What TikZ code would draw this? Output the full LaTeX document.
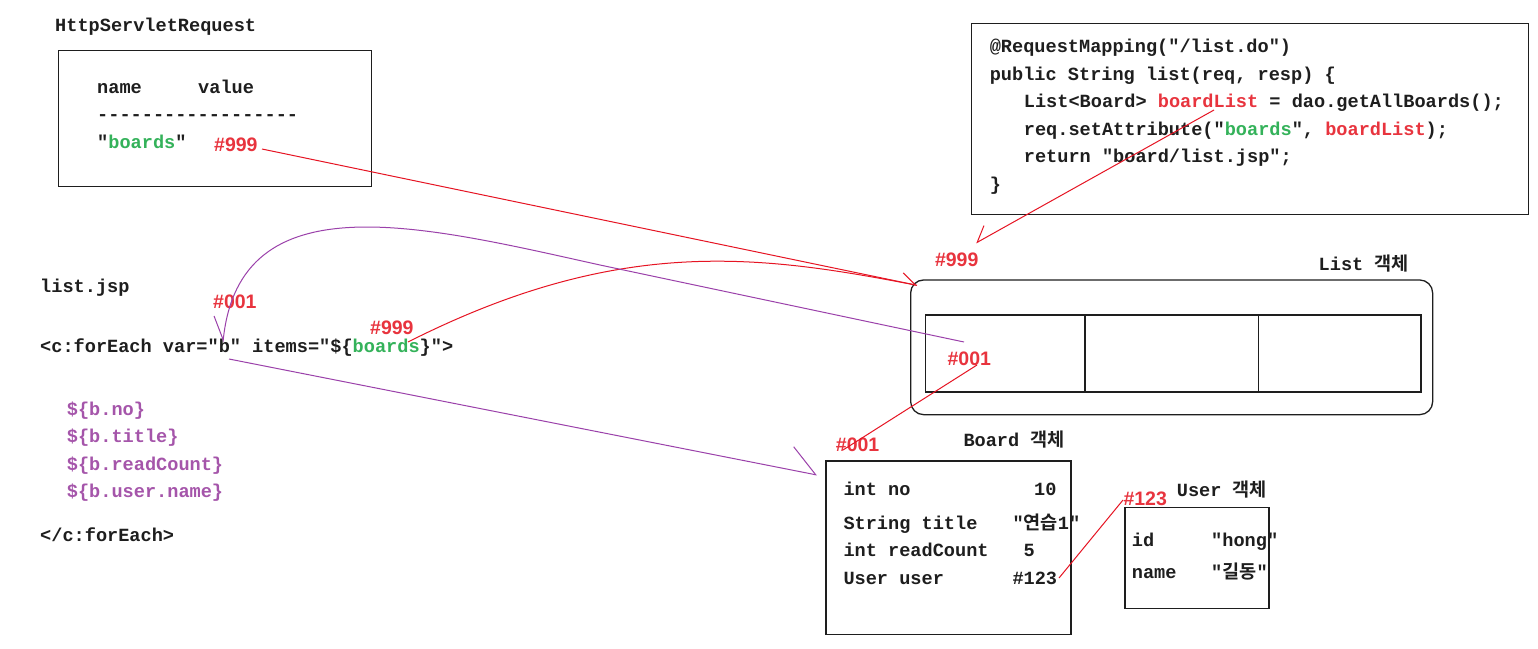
\documentclass[tikz,border=0pt]{standalone}
\usepackage{fontspec}
\setmonofont{Liberation Mono}
\newfontfamily\lblfont{Liberation Sans}
\newfontfamily\krfont{Noto Sans CJK KR}[UprightFont={* Bold},BoldFont={* Bold}]
\usetikzlibrary{arrows.meta}
\definecolor{redtxt}{RGB}{232,52,62}
\definecolor{redln}{RGB}{230,20,35}
\definecolor{greentxt}{RGB}{52,178,90}
\definecolor{purpletxt}{RGB}{165,85,170}
\definecolor{purpleln}{RGB}{155,65,170}
\definecolor{inkc}{RGB}{30,30,30}
\begin{document}
\begin{tikzpicture}[x=1pt,y=-1pt,
  txt/.style={inner sep=0pt, anchor=base west, text=inkc,
    font=\ttfamily\bfseries\fontsize{18.6}{22}\selectfont},
  eltxt/.style={txt, text=purpletxt},
  lbl/.style={inner sep=0pt, anchor=base west, text=redtxt,
    font=\lblfont\bfseries\fontsize{19.5}{22}\selectfont},
  boxn/.style={draw=inkc, line width=1.3pt, anchor=north west, inner sep=0pt},
  redwire/.style={draw=redln, line width=1pt},
  purplewire/.style={draw=purpleln, line width=1pt}]
\useasboundingbox (0,0) rectangle (1538,648);
\fill[white] (0,0) rectangle (1538,648);

% HttpServletRequest
\node[txt] (reqtitle) at (55,31.7) {HttpServletRequest};
\node[boxn, minimum width=313pt, minimum height=136pt] (reqbox) at (58,50) {};
\node[txt] (reqname) at (97,93) {name};
\node[txt] (reqvalue) at (198,93) {value};
\node[txt] (reqdash) at (97,120.5) {------------------};
\node[txt] (reqkey) at (97,148) {"\textcolor{greentxt}{boards}"};
\node[lbl] (req999) at (214,151.7) {\#999};

% controller code
\node[boxn, minimum width=557pt, minimum height=191pt] (codebox) at (971,23) {};
\node[txt] (code1) at (989.6,52.5) {@RequestMapping("/list.do")};
\node[txt] (code2) at (989.6,80) {public String list(req, resp) \{};
\node[txt] (code3) at (1023.7,107.5) {List<Board> \textcolor{redtxt}{boardList} = dao.getAllBoards();};
\node[txt] (code4) at (1023.7,135) {req.setAttribute("\textcolor{greentxt}{boards}", \textcolor{redtxt}{boardList});};
\node[txt] (code5) at (1023.7,162.5) {return "board/list.jsp";};
\node[txt] (code6) at (989.6,190) {\}};

% list.jsp
\node[txt] (jsptitle) at (40,292.7) {list.jsp};
\node[lbl] (jsp001) at (213,308.3) {\#001};
\node[lbl] (jsp999) at (370,334.3) {\#999};
\node[txt] (foreach) at (40,352.7) {<c:forEach var="b" items="\$\{\textcolor{greentxt}{boards}\}">};
\node[eltxt] (el1) at (66.7,415) {\$\{b.no\}};
\node[eltxt] (el2) at (66.7,442.7) {\$\{b.title\}};
\node[eltxt] (el3) at (66.7,470) {\$\{b.readCount\}};
\node[eltxt] (el4) at (66.7,497.7) {\$\{b.user.name\}};
\node[txt] (endforeach) at (40,541) {</c:forEach>};

% List object
\node[txt] (listlbl) at (1318.5,270.7) {List {\krfont 객체}};
\node[lbl] (list999) at (934.8,266) {\#999};
\node[boxn, rounded corners=13pt, minimum width=522pt, minimum height=134.7pt] (listbox) at (910,279.3) {};
\node[boxn, line width=1.2pt, minimum width=495.3pt, minimum height=77pt] (listarr) at (925,314.3) {};
\draw[inkc, line width=1.2pt] (1085,316) -- (1085,393.3);
\draw[inkc, line width=1.2pt] (1258.8,316) -- (1258.8,393.3);
\node[lbl] (list001) at (947.4,365) {\#001};

% Board object
\node[lbl] (board001) at (835.7,451) {\#001};
\node[txt] (boardlbl) at (963.3,446.7) {Board {\krfont 객체}};
\node[boxn, minimum width=245pt, minimum height=173.7pt] (boardbox) at (825.3,460.3) {};
\node[txt] (bno) at (843.3,495.7) {int no};
\node[txt] (bnov) at (1034,495.7) {10};
\node[txt] (btitle) at (843.3,529) {String title};
\node[txt] (btitlev) at (1012.3,529) {"{\krfont 연습}1"};
\node[txt] (brc) at (843.3,556.7) {int readCount};
\node[txt] (brcv) at (1023.3,556.7) {5};
\node[txt] (buser) at (843.3,584) {User user};
\node[txt] (buserv) at (1012.3,584) {\#123};

% User object
\node[txt] (userlbl) at (1176.7,496.7) {User {\krfont 객체}};
\node[lbl] (user123) at (1123.3,505) {\#123};
\node[boxn, minimum width=144pt, minimum height=101.3pt] (userbox) at (1124.3,506.7) {};
\node[txt] (uid) at (1131.7,546) {id};
\node[txt] (uidv) at (1211,546) {"hong"};
\node[txt] (uname) at (1131.7,578.3) {name};
\node[txt] (unamev) at (1211,578.3) {"{\krfont 길동}"};

% connector end points
\coordinate (reqOut) at (262,149);
\coordinate (listTip) at (917,285.3);
\coordinate (jspBoardsOut) at (408,342);
\coordinate (boardListOut) at (1214,110);
\coordinate (codeTip) at (976,243);
\coordinate (listCellOut) at (977,365);
\coordinate (boardIn) at (843,450);
\coordinate (bTip) at (223,342);
\coordinate (bOut) at (229,359);
\coordinate (boardTip) at (817,475);
\coordinate (userRefOut) at (1059,578);
\coordinate (userIn) at (1123,500);
\coordinate (listElemOut) at (964,342);
\coordinate (bendA) at (600,265);

% connectors
\draw[redwire, -{Straight Barb[left, length=14.3pt, width=18.6pt]}] (reqOut) -- (listTip);
\draw[redwire] (jspBoardsOut) .. controls (620,235) and (760,255) .. (listTip);
\draw[redwire, -{Straight Barb[right, length=14pt, width=22.6pt]}] (boardListOut) -- (codeTip);
\draw[redwire] (listCellOut) -- (boardIn);
\draw[redwire] (userRefOut) -- (userIn);
\draw[purplewire, -{Straight Barb[left, length=27pt, width=46.4pt]}] (bOut) -- (boardTip);
\draw[purplewire, -{Straight Barb[right, length=22.8pt, width=23.2pt]}] (listElemOut) -- (bendA) .. controls (420,225) and (240,180) .. (bTip);
\end{tikzpicture}
\end{document}
